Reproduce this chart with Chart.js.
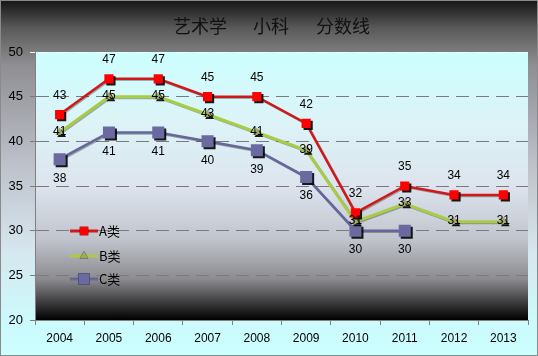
<!DOCTYPE html>
<html><head><meta charset="utf-8">
<script src="https://cdn.jsdelivr.net/npm/chart.js@4/dist/chart.umd.min.js"></script>
<style>html,body{margin:0;padding:0;background:#fff}#wrap{width:538px;height:356px}</style>
</head><body><div id="wrap"><canvas id="c" width="538" height="356"></canvas></div>
<script>
const categories = ['2004','2005','2006','2007','2008','2009','2010','2011','2012','2013'];
const seriesA = [43,47,47,45,45,42,32,35,34,34];
const seriesB = [41,45,45,43,41,39,31,33,31,31];
const seriesC = [38,41,41,40,39,36,30,30,null,null];
const seriesNames = ['A类','B类','C类'];
const yTicks = [20,25,30,35,40,45,50];
const titleParts = ['艺术学','小科','分数线'];

const origPointDraw = Chart.PointElement.prototype.draw;
Chart.PointElement.prototype.draw = function(ctx, area){
  ctx.save();
  ctx.shadowColor = 'rgba(0,0,0,0.9)'; ctx.shadowOffsetX = 2; ctx.shadowOffsetY = 2; ctx.shadowBlur = 0;
  origPointDraw.call(this, ctx, area);
  ctx.restore();
};

const bgPlugin = {
  id:'bg',
  beforeDraw(chart){
    const ctx = chart.ctx, W = chart.width, H = chart.height, a = chart.chartArea;
    ctx.save();
    let g = ctx.createLinearGradient(0,0,0,H);
    g.addColorStop(0,'#141414');
    g.addColorStop(0.08,'#5a5a5a');
    g.addColorStop(0.18,'#8e8e92');
    g.addColorStop(0.45,'#bcbfc8');
    g.addColorStop(0.7,'#d6e6ee');
    g.addColorStop(0.9,'#ccfafc');
    g.addColorStop(1,'#ccffff');
    ctx.fillStyle = g; ctx.fillRect(0,0,W,H);
    g = ctx.createLinearGradient(0,a.top,0,a.bottom);
    g.addColorStop(0,'#ccffff');
    g.addColorStop(0.25,'#dcf4f8');
    g.addColorStop(0.5,'#dde4ee');
    g.addColorStop(0.7,'#c0c4cc');
    g.addColorStop(0.85,'#8a8a8e');
    g.addColorStop(1,'#000000');
    ctx.fillStyle = g; ctx.fillRect(a.left,a.top,a.right-a.left,a.bottom-a.top);
    ctx.strokeStyle = '#8a8a8a'; ctx.lineWidth = 1;
    ctx.strokeRect(0.5,0.5,W-1,H-1);
    ctx.fillStyle = '#111';
    ctx.font = '18px "Noto Sans CJK SC"';
    ctx.textAlign = 'center'; ctx.textBaseline = 'middle';
    const xs = [200,271,343];
    titleParts.forEach((t,i)=>ctx.fillText(t,xs[i],26));
    ctx.restore();
  }
};

const shadowPlugin = {
  id:'shadow',
  beforeDatasetDraw(chart){
    const ctx = chart.ctx; ctx.save();
    ctx.shadowColor = 'rgba(0,0,0,0.3)'; ctx.shadowOffsetX = 1; ctx.shadowOffsetY = 1; ctx.shadowBlur = 0;
  },
  afterDatasetDraw(chart){ chart.ctx.restore(); }
};

const labelPlugin = {
  id:'labels',
  afterDatasetsDraw(chart){
    const ctx = chart.ctx; ctx.save();
    ctx.font = '12px "Liberation Sans"'; ctx.fillStyle = '#000';
    ctx.textAlign = 'center'; ctx.textBaseline = 'middle';
    const offs = [-19, -1, 19];
    chart.data.datasets.forEach((ds,di)=>{
      const meta = chart.getDatasetMeta(di);
      meta.data.forEach((p,i)=>{
        const v = ds.data[i]; if (v==null) return;
        ctx.fillText(String(v), p.x, p.y + offs[di]);
      });
    });
    const items = [[231,'#d01818','#ff0000','rect',6],[256,'#a8cc44','#a0a868','triangle',5],[279,'#666699','#6a6aa0','rect',8]];
    ctx.font = '13px "Noto Sans CJK SC"'; ctx.textAlign='left';
    items.forEach((it,i)=>{
      const [y,lc,pc,st,r] = it;
      ctx.strokeStyle = lc; ctx.lineWidth = 3;
      ctx.beginPath(); ctx.moveTo(70,y); ctx.lineTo(98,y); ctx.stroke();
      Chart.helpers.drawPoint(ctx,{pointStyle:st,radius:r,borderWidth:0},84,y);
      ctx.fillStyle = pc; ctx.fill();
      ctx.fillStyle = '#000';
      ctx.fillText(seriesNames[i], 99, y);
    });
    ctx.restore();
  }
};

new Chart(document.getElementById('c'),{
  type:'line',
  data:{labels:categories,datasets:[
    {label:seriesNames[0],data:seriesA,borderColor:'#d01818',backgroundColor:'#ff0000',borderWidth:2.5,pointStyle:'rect',pointRadius:6.5,pointBorderWidth:0,pointBackgroundColor:'#ff0000',tension:0},
    {label:seriesNames[1],data:seriesB,borderColor:'#a8cc44',backgroundColor:'#a0a868',borderWidth:3,pointStyle:'triangle',pointRadius:5,pointBorderWidth:0,pointBackgroundColor:'#a0a868',tension:0},
    {label:seriesNames[2],data:seriesC,borderColor:'#666699',backgroundColor:'#6a6aa0',borderWidth:2.5,pointStyle:'rect',pointRadius:8.5,pointBorderWidth:0,pointBackgroundColor:'#6a6aa0',tension:0}
  ]},
  options:{
    responsive:false,animation:false,
    layout:{padding:{top:52,right:10,left:0,bottom:0}},
    plugins:{legend:{display:false},title:{display:false},tooltip:{enabled:false}},
    scales:{
      x:{offset:true,
        grid:{offset:true,drawOnChartArea:false,drawTicks:true,tickLength:5,color:'#808080'},
        border:{display:true,color:'#808080'},
        ticks:{color:'#000',font:{family:'"Liberation Sans"',size:12},padding:6,maxRotation:0},
        afterFit(s){s.height=36;}
      },
      y:{min:20,max:50,
        afterBuildTicks(s){s.ticks = yTicks.map(v=>({value:v}));},
        grid:{color:(c)=>c.tick && c.tick.value===50?'#f0ffff':'#7a7a80',tickLength:5,lineWidth:1},
        border:{display:true,color:'#808080',dash:[13,7]},
        ticks:{color:'#000',font:{family:'"Liberation Sans"',size:13},padding:7},
        afterFit(s){s.width=35;}
      }
    }
  },
  plugins:[bgPlugin,shadowPlugin,labelPlugin]
});
</script></body></html>
